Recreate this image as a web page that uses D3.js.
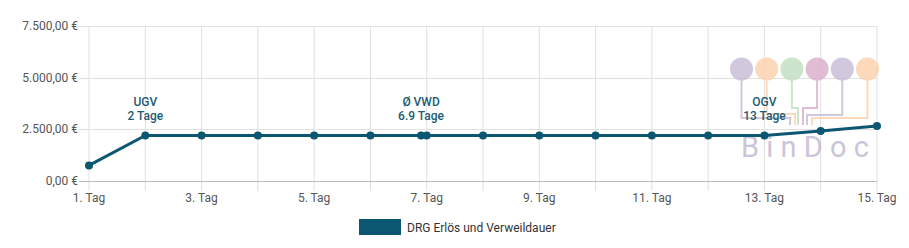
<!DOCTYPE html>
<html>
<head>
<meta charset="utf-8">
<script src="https://cdn.jsdelivr.net/npm/d3@7"></script>
<style>
	body { margin: 0; background: #fff; font-family: Roboto, "Open Sans", sans-serif; }
</style>
</head>
<body>
<div id="container"></div>
<script>
// data
var days = [1, 2, 3, 4, 5, 6, 6.9, 7, 8, 9, 10, 11, 12, 13, 14, 15];
var revenue = [755, 2200, 2200, 2200, 2200, 2200, 2200, 2200, 2200, 2200, 2200, 2200, 2200, 2205, 2418, 2659];
var yTicks = [0, 2500, 5000, 7500];
var xTicks = [1, 3, 5, 7, 9, 11, 13, 15];
var markerDays = [2, 6.9, 13];
var markerLabels = [["UGV", "2 Tage"], ["Ø VWD", "6.9 Tage"], ["OGV", "13 Tage"]];
var seriesName = "DRG Erlös und Verweildauer";
var logoColors = ["#c9bfd8", "#fdd3b0", "#c4e0c3", "#dbb2cd", "#c9bfd8", "#fdd3b0"];

(function()
{
	var width = 909, height = 248;
	var left = 89, right = 877, top = 26, bottom = 181;
	var lineColor = "#0b5670";

	var svg = d3.select("#container").append("svg")
		.attr("width", width)
		.attr("height", height);

	var x = d3.scaleLinear().domain([1, 15]).range([left, right]);
	var y = d3.scaleLinear().domain([0, 7500]).range([bottom, top]);
	var fmt = function(v) {
		return d3.formatLocale({decimal: ",", thousands: ".", grouping: [3], currency: ["", " €"]}).format("$,.2f")(v);
	};

	// grid lines
	svg.append("g").selectAll("line")
		.data(d3.range(1, 16))
		.enter().append("line")
		.attr("x1", function(d) { return x(d); })
		.attr("x2", function(d) { return x(d); })
		.attr("y1", top)
		.attr("y2", bottom + 10)
		.style("stroke", "#e0e0e0")
		.style("stroke-width", "1px");
	svg.append("g").selectAll("line")
		.data(yTicks)
		.enter().append("line")
		.attr("x1", left - 10)
		.attr("x2", right)
		.attr("y1", function(d) { return Math.round(y(d)) + 0.5; })
		.attr("y2", function(d) { return Math.round(y(d)) + 0.5; })
		.style("stroke", function(d) { return d == 0 ? "#bdbdbd" : "#e0e0e0"; })
		.style("stroke-width", "1px");

	// y labels
	svg.append("g").selectAll("text")
		.data(yTicks)
		.enter().append("text")
		.attr("x", left - 11)
		.attr("y", function(d) { return y(d) + 4; })
		.attr("text-anchor", "end")
		.style("font-size", "12px")
		.style("fill", "#555")
		.text(fmt);

	// x labels
	svg.append("g").selectAll("text")
		.data(xTicks)
		.enter().append("text")
		.attr("x", function(d) { return x(d); })
		.attr("y", 202)
		.attr("text-anchor", "middle")
		.style("font-size", "12px")
		.style("fill", "#555")
		.text(function(d) { return d + ". Tag"; });

	// BinDoc watermark
	var logo = svg.append("g").attr("opacity", 0.85);
	var cx0 = 741.5, step = 25.2, cy = 69, joinY = 125;
	var bendY = [118, 114, 108, 108, 115, 118];
	var joinX = [790, 795, 798, 803, 807, 812];
	logoColors.forEach(function(c, i) {
		var cx = cx0 + i * step;
		logo.append("path")
			.attr("d", "M" + cx + "," + cy + "V" + bendY[i] + "H" + joinX[i] + "V" + joinY)
			.style("fill", "none")
			.style("stroke", c)
			.style("stroke-width", "2px");
		logo.append("circle")
			.attr("cx", cx).attr("cy", cy).attr("r", 11.5)
			.style("fill", c);
	});
	logo.append("text")
		.attr("x", 741)
		.attr("y", 157)
		.attr("textLength", 128)
		.attr("lengthAdjust", "spacing")
		.style("font-size", "29px")
		.style("fill", "#c2bbd3")
		.text("BinDoc");

	// line
	var line = d3.line()
		.x(function(d, i) { return x(days[i]); })
		.y(function(d) { return y(d); });
	svg.append("path")
		.datum(revenue)
		.attr("d", line)
		.style("fill", "none")
		.style("stroke", lineColor)
		.style("stroke-width", "3px")
		.style("stroke-linejoin", "round");
	svg.append("g").selectAll("circle")
		.data(revenue)
		.enter().append("circle")
		.attr("cx", function(d, i) { return x(days[i]); })
		.attr("cy", function(d) { return y(d); })
		.attr("r", 4)
		.style("fill", lineColor);

	// marker labels
	markerDays.forEach(function(d, i) {
		var t = svg.append("text")
			.attr("text-anchor", "middle")
			.style("font-size", "12px")
			.style("font-weight", "500")
			.style("fill", "#1d5b73");
		t.append("tspan").attr("x", x(d)).attr("y", 106).text(markerLabels[i][0]);
		t.append("tspan").attr("x", x(d)).attr("y", 120).text(markerLabels[i][1]);
	});

	// legend
	svg.append("rect")
		.attr("x", 359).attr("y", 219)
		.attr("width", 42).attr("height", 16)
		.style("fill", lineColor);
	svg.append("text")
		.attr("x", 407).attr("y", 232)
		.style("font-size", "12px")
		.style("fill", "#333")
		.text(seriesName);
})();
</script>
</body>
</html>
